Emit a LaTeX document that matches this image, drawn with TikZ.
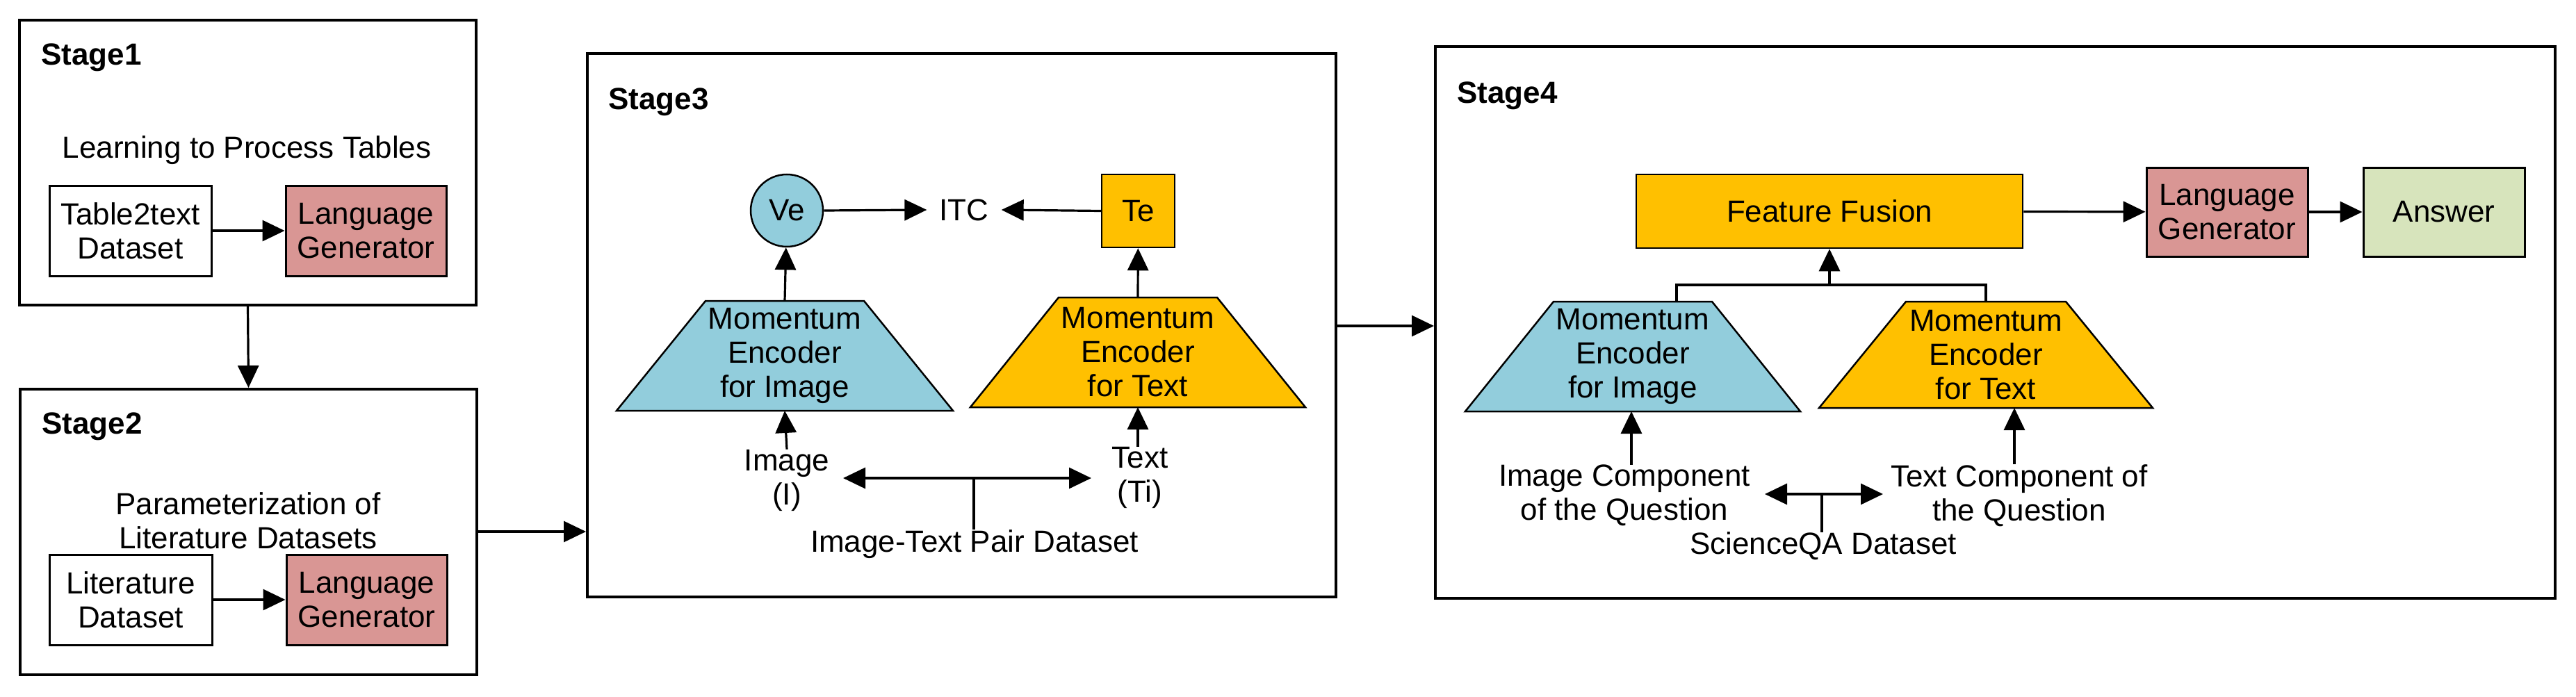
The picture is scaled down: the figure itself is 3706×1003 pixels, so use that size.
\documentclass[tikz,border=0pt]{standalone}
\usepackage{fontspec}
\setmainfont{Liberation Sans}
\usetikzlibrary{arrows.meta}
\definecolor{cblue}{RGB}{146,205,220}
\definecolor{corange}{RGB}{255,192,0}
\definecolor{cpink}{RGB}{217,150,148}
\definecolor{cgreen}{RGB}{215,228,188}
\newcommand\mytrap[8]{%
  \draw[line width=2.5pt,fill=#7] (#2-#5,#3) -- (#2+#5,#3) -- (#2+#6,#4) -- (#2-#6,#4) -- cycle;
  \node[txt] (#1) at (#2,{(#3+#4)/2}) {#8};
  \coordinate (#1t) at (#2,#3);
  \coordinate (#1b) at (#2,#4);}
\begin{document}
\begin{tikzpicture}[x=1pt,y=-1pt,
  txt/.style={font=\fontsize{44}{49}\selectfont,align=center,inner sep=0pt},
  stage/.style={draw,line width=4pt},
  lbl/.style={font=\fontsize{44}{49}\selectfont\bfseries,anchor=west,inner sep=0pt},
  box/.style={draw,line width=3pt,txt},
  arr/.style={line width=3.2pt,-{Triangle[length=32pt,width=30pt]}},
  ln/.style={line width=3.2pt}]
\useasboundingbox (0,0) rectangle (3706,1003);
% Stage boxes
\node[stage,minimum width=657pt,minimum height=410pt,inner sep=0pt] (s1) at (356.5,234) {};
\node[stage,minimum width=657pt,minimum height=411pt,inner sep=0pt] (s2) at (357.5,765.5) {};
\node[stage,minimum width=1077pt,minimum height=782pt,inner sep=0pt] (s3) at (1383.5,468) {};
\node[stage,minimum width=1611pt,minimum height=794pt,inner sep=0pt] (s4) at (2870.5,464) {};
\node[lbl] (l1) at (59,83) {Stage1};
\node[lbl] (l2) at (60,614) {Stage2};
\node[lbl] (l3) at (875,147) {Stage3};
\node[lbl] (l4) at (2096,138) {Stage4};
% Stage1
\node[txt] (t1) at (355,216) {Learning to Process Tables};
\node[box,minimum width=233pt,minimum height=130pt] (d1) at (187.5,332) {Table2text\\Dataset};
\node[box,fill=cpink,minimum width=231pt,minimum height=130pt] (g1) at (526.5,332) {Language\\Generator};
\draw[arr] (d1) -- (g1);
% Stage2
\node[txt] (t2) at (357,749) {Parameterization of\\Literature Datasets};
\node[box,minimum width=234pt,minimum height=130pt] (d2) at (188,863) {Literature\\Dataset};
\node[box,fill=cpink,minimum width=231pt,minimum height=130pt] (g2) at (527.5,863) {Language\\Generator};
\draw[arr] (d2) -- (g2);
\draw[arr] (s1.south) -- (s2.north);
\draw[arr] (s2.east |- 0,765) -- (s3.west |- 0,765);
\draw[arr] (s3.east |- 0,469) -- (s4.west |- 0,469);
% Stage3
\node[draw,line width=2.5pt,fill=cblue,circle,minimum size=104pt,txt] (ve) at (1132,303) {Ve};
\node[txt] (itc) at (1387,302) {ITC};
\node[draw,line width=2.5pt,fill=corange,minimum width=105pt,minimum height=105pt,txt] (te) at (1637.5,303.5) {Te};
\draw[arr] (ve.east) -- ([xshift=-18pt]itc.west);
\draw[arr] (te.west) -- ([xshift=18pt]itc.east);
\mytrap{ei}{1129}{433}{591}{114}{242}{cblue}{Momentum\\Encoder\\for Image}
\mytrap{et}{1637}{428}{586}{114}{241}{corange}{Momentum\\Encoder\\for Text}
\draw[arr] (eit) -- (ve);
\draw[arr] (ett) -- (te);
\node[txt] (img) at (1132,691) {Image\\(I)};
\node[txt] (txt) at (1640,687) {Text\\(Ti)};
\draw[arr] (img.north) -- (eib);
\draw[arr] (txt.north -| etb) -- (etb);
\node[txt] (itp) at (1402,783) {Image-Text Pair Dataset};
\coordinate (jl) at (1213,688);
\coordinate (jr) at (1570,688);
\coordinate (jm) at (1401,688);
\draw[line width=3.2pt,{Triangle[length=32pt,width=30pt]}-{Triangle[length=32pt,width=30pt]}] (jl) -- (jr);
\draw[ln] (jm) -- (itp.north -| jm);
% Stage4
\node[draw,line width=2.5pt,fill=corange,minimum width=556pt,minimum height=106pt,txt] (ff) at (2632,304) {Feature Fusion};
\node[box,fill=cpink,minimum width=232pt,minimum height=128pt] (g3) at (3204,305) {Language\\Generator};
\node[box,fill=cgreen,minimum width=232pt,minimum height=128pt] (ans) at (3516,305) {Answer};
\draw[arr] (ff) -- (g3);
\draw[arr] (g3) -- (ans);
\mytrap{fi}{2349}{434}{592}{114}{241}{cblue}{Momentum\\Encoder\\for Image}
\mytrap{ft}{2857}{434}{587}{115}{240}{corange}{Momentum\\Encoder\\for Text}
\coordinate (tl) at (2412,434);
\coordinate (tj) at (2632,410);
\draw[ln] (tl) |- (tj) -| (ftt);
\draw[arr] (tj) -- (ff.south);
\node[txt] (ic) at (2337,713) {Image Component\\of the Question};
\node[txt] (tc) at (2905,713) {Text Component of\\the Question};
\draw[arr] (ic.north -| 2347,0) -- (2347,592);
\draw[arr] (tc.north -| 2898,0) -- (2898,587);
\node[txt] (sqa) at (2623,786) {ScienceQA Dataset};
\coordinate (kl) at (2539,711);
\coordinate (kr) at (2709,711);
\coordinate (km) at (2621,711);
\draw[line width=3.2pt,{Triangle[length=32pt,width=30pt]}-{Triangle[length=32pt,width=30pt]}] (kl) -- (kr);
\draw[ln] (km) -- (sqa.north -| km);
\end{tikzpicture}
\end{document}
